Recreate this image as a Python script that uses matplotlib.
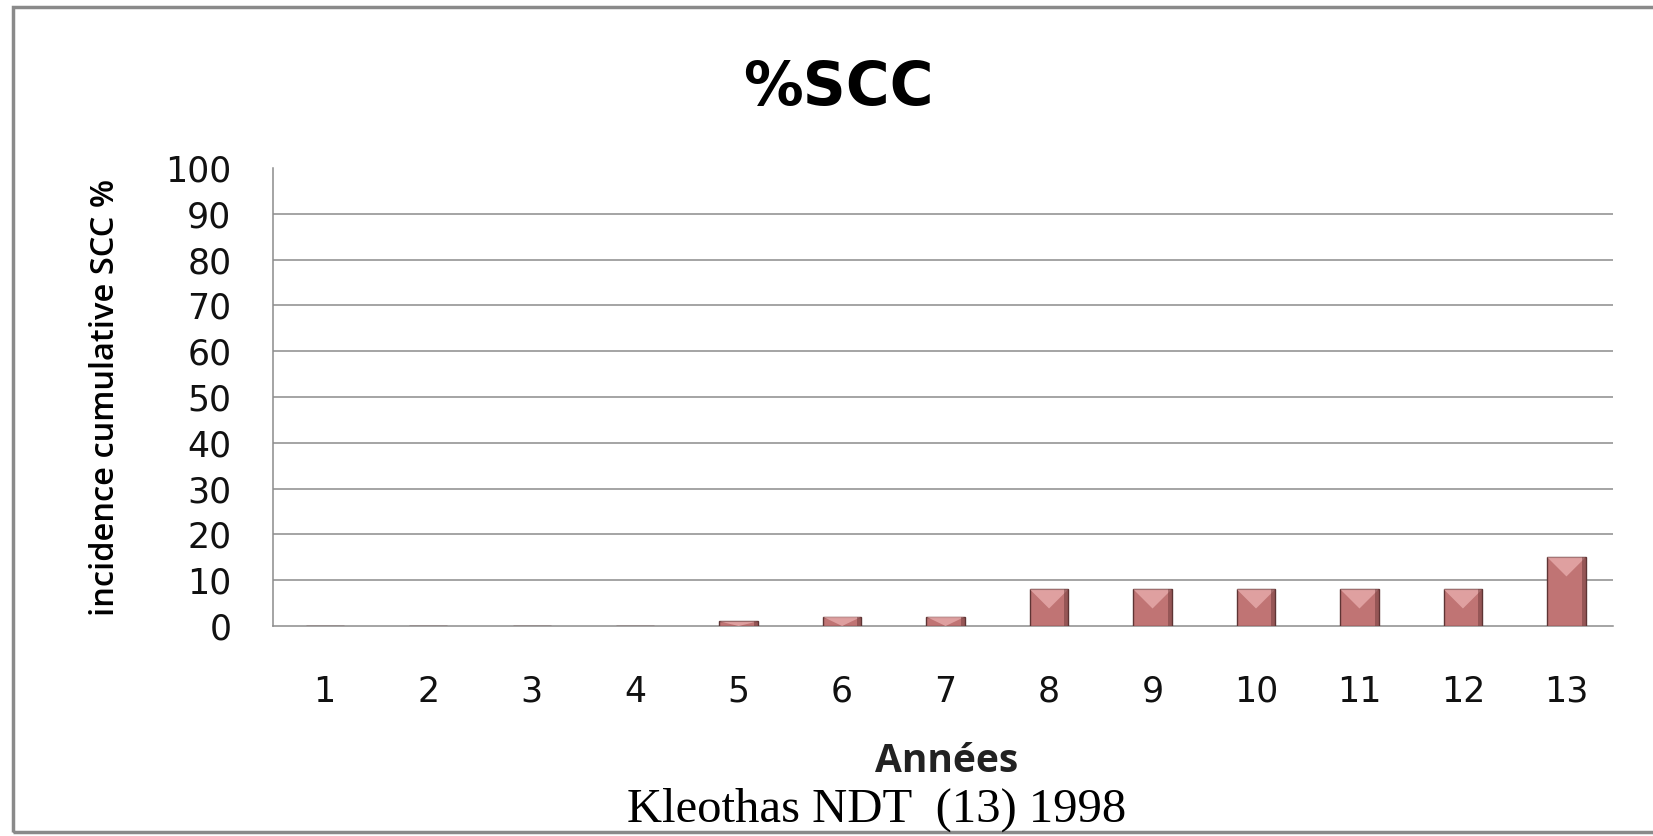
import matplotlib.pyplot as plt
from matplotlib.patches import Rectangle, Polygon

# data
annees = ['1', '2', '3', '4', '5', '6', '7', '8', '9', '10', '11', '12', '13']
scc = [0, 0, 0, 0, 1, 2, 2, 8, 8, 8, 8, 8, 15]
yticks = [0, 10, 20, 30, 40, 50, 60, 70, 80, 90, 100]

W, H = 1653, 836
fig = plt.figure(figsize=(W / 100, H / 100), dpi=100)
fig.patch.set_facecolor('white')

# outer frame of the slide picture
fig.patches.append(Rectangle((13 / W, 1 - 832 / H), 1.2, (832 - 7) / H,
                             transform=fig.transFigure, fill=False,
                             edgecolor='#8a8a8a', linewidth=2.5))

ax = fig.add_axes([273 / W, 1 - 626 / H, (1613 - 273) / W, (626 - 168) / H])
x = range(len(annees))
bars = ax.bar(x, scc, width=0.37, color='#c07474', edgecolor='#5e3434',
              linewidth=1.0, zorder=3)

ax.set_xlim(-0.5, len(annees) - 0.55)
ax.set_ylim(0, 100)

# bevel look: lighter chevron on top of each bar
px_x = ax.bbox.width / (ax.get_xlim()[1] - ax.get_xlim()[0])
px_y = ax.bbox.height / 100
for b in bars:
    h = b.get_height()
    if h <= 0:
        continue
    x0, w = b.get_x(), b.get_width()
    d = min(h, w * px_x / px_y / 2)
    ax.add_patch(Polygon([(x0, h), (x0 + w, h), (x0 + w / 2, h - d)],
                         closed=True, facecolor='#eab0b0', edgecolor='none',
                         alpha=0.75, zorder=4))
    ax.add_patch(Rectangle((x0 + w * 0.9, 0), w * 0.1, h,
                           facecolor='#6e3a3a', edgecolor='none',
                           alpha=0.5, zorder=4))

ax.set_yticks(yticks)
ax.set_xticks(list(x))
ax.set_xticklabels(annees)
for y in yticks[1:-1]:
    ax.axhline(y, color='#8c8c8c', linewidth=1.1, zorder=1)

for s in ['top', 'right']:
    ax.spines[s].set_visible(False)
ax.spines['left'].set_color('#8c8c8c')
ax.spines['bottom'].set_color('#8c8c8c')
ax.spines['left'].set_linewidth(1.1)
ax.spines['bottom'].set_linewidth(1.1)
ax.tick_params(axis='both', length=0, labelsize=25, colors='#111111')
ax.tick_params(axis='x', pad=35)
ax.tick_params(axis='y', pad=30)

ax.set_ylabel('incidence cumulative SCC %', fontsize=23.5,
              fontweight='semibold', family='Open Sans')
ax.yaxis.set_label_coords(-0.113, 0.5)

fig.text(838 / W, 1 - 88 / H, '%SCC', ha='center', va='center',
         fontsize=43, fontweight='bold')
fig.text(947 / W, 1 - 762 / H, 'Années', ha='center', va='center',
         fontsize=28, fontweight='bold', family='Open Sans', color='#222222')
fig.text(877 / W, 1 - 810 / H, 'Kleothas NDT  (13) 1998', ha='center',
         va='center', fontsize=35, family='Liberation Serif')

fig.savefig('out.png', dpi=100)
